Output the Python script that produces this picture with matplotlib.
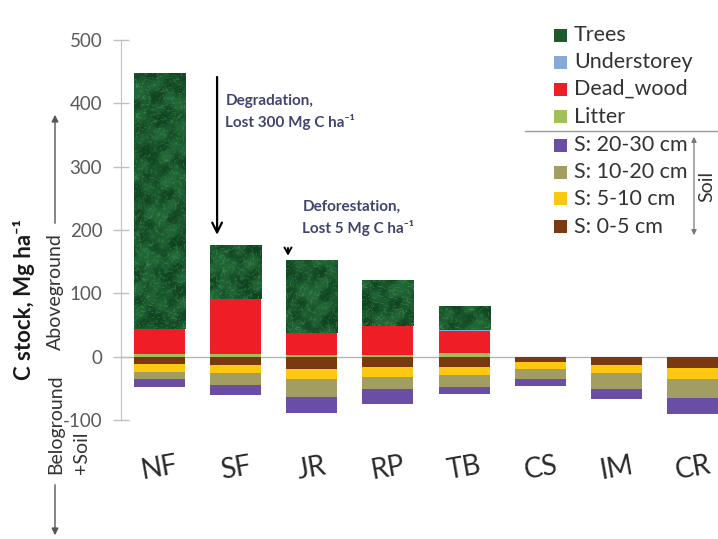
import numpy as np
import matplotlib
matplotlib.use("Agg")
import matplotlib.pyplot as plt
from matplotlib.patches import Rectangle, FancyArrowPatch
from matplotlib.lines import Line2D

plt.rcParams['font.family'] = ['Lato', 'DejaVu Sans']

# ---- data (Mg C ha-1) ----
sites = ["NF", "SF", "JR", "RP", "TB", "CS", "IM", "CR"]
litter = [5, 5, 2, 2, 6, 0, 0, 0]
dead_wood = [38, 86, 35, 46, 35, 0, 0, 0]
understorey = [0.5, 0.5, 0.5, 0.5, 0.5, 0, 0, 0]
trees = [404.5, 84.5, 114.5, 72.5, 38.5, 0, 0, 0]
soil_0_5 = [12, 13, 20, 16, 17, 9, 13, 18]
soil_5_10 = [12, 12, 16, 16, 12, 10, 13, 18]
soil_10_20 = [12, 19, 28, 19, 19, 17, 25, 29]
soil_20_30 = [12, 16, 25, 24, 11, 11, 16, 26]
y_ticks = [500, 400, 300, 200, 100, 0, -100]

colors = {
    "Trees": "#1c5a2d",
    "Understorey": "#86a9d8",
    "Dead_wood": "#ee1d26",
    "Litter": "#9fc05a",
    "S: 20-30 cm": "#6a4ea6",
    "S: 10-20 cm": "#a29d62",
    "S: 5-10 cm": "#fcc812",
    "S: 0-5 cm": "#7b3912",
}

W, H = 718, 539
fig = plt.figure(figsize=(W / 100, H / 100), dpi=100)
fx = lambda px: px / W
fy = lambda py: 1 - py / H

ax = fig.add_axes([fx(121), fy(420), 610 / W, 380 / H])
x = np.arange(len(sites))
bw = 0.67

# aboveground stack
above = [("Litter", litter), ("Dead_wood", dead_wood),
         ("Understorey", understorey), ("Trees", trees)]
bottom = np.zeros(len(sites))
tree_bars = None
for name, vals in above:
    vals = np.asarray(vals, float)
    bars = ax.bar(x, vals, bw, bottom=bottom, color=colors[name], lw=0, zorder=2)
    if name == "Trees":
        tree_bars = bars
    bottom += vals

# belowground (soil) stack, drawn downward
below = [("S: 0-5 cm", soil_0_5), ("S: 5-10 cm", soil_5_10),
         ("S: 10-20 cm", soil_10_20), ("S: 20-30 cm", soil_20_30)]
bottom = np.zeros(len(sites))
for name, vals in below:
    vals = -np.asarray(vals, float)
    ax.bar(x, vals, bw, bottom=bottom, color=colors[name], lw=0, zorder=2)
    bottom += vals

# foliage texture on the tree segments: mottled green with fine pale veins
WAVES = [(0.31, 0.4, 0.0), (0.23, 1.3, 1.1), (0.41, 2.2, 2.3), (0.17, 2.9, 0.7),
         (0.53, 0.9, 4.1), (0.37, 1.8, 5.3), (0.61, 2.6, 3.2)]

def foliage(h, w, off):
    yy, xx = np.mgrid[0:h, 0:w].astype(float)
    yy = yy + off
    n = np.zeros_like(xx)
    m = np.zeros_like(xx)
    for f, ang, ph in WAVES:
        u = xx * np.cos(ang) + yy * np.sin(ang)
        n += np.sin(1.9 * f * u + ph + 1.2 * np.sin(0.23 * xx + 0.15 * yy + ph))
        m += np.sin(0.7 * f * u + 2 * ph)
    n /= len(WAVES) ** 0.5
    m /= len(WAVES) ** 0.5
    veins = np.exp(-(n / 0.13) ** 2)
    blotch = 0.5 + 0.5 * np.tanh(1.2 * m)
    dark = np.array([0x10, 0x44, 0x21]) / 255
    mid = np.array([0x22, 0x68, 0x36]) / 255
    light = np.array([0x62, 0xa8, 0x70]) / 255
    base = dark + (mid - dark) * blotch[..., None]
    return base + (light - base) * (0.45 * veins[..., None])

for i, bar in enumerate(tree_bars):
    hgt = bar.get_height()
    if hgt <= 0:
        continue
    x0, y0, w = bar.get_x(), bar.get_y(), bar.get_width()
    tex = foliage(max(int(hgt * 0.635), 4), 51, 37 * i)
    im = ax.imshow(tex, extent=[x0, x0 + w, y0, y0 + hgt], aspect="auto",
                   origin="lower", interpolation="bilinear", zorder=2.5)
    im.set_clip_path(bar)

ax.axhline(0, color="#b5b5b5", lw=1, zorder=1)

ax.set_xlim(-0.5, 7.5)
ax.set_ylim(-100, 500)
for s in ["top", "right", "bottom"]:
    ax.spines[s].set_visible(False)
ax.spines["left"].set_color("#c0c0c0")
ax.set_xticks([])
ax.set_yticks(y_ticks)
ax.set_yticklabels([str(v) for v in y_ticks])
ax.tick_params(axis="y", direction="inout", length=11, width=1, color="#c0c0c0",
               labelsize=13.5, labelcolor="#5a5a5a", pad=8)
ax.patch.set_alpha(0)

for xi, s in zip(x, sites):
    ax.text(xi, -176, s, rotation=10, ha="center", va="center", fontsize=20,
            color="#2a2a2a", clip_on=False)

# change annotations
ann_col = "#40446f"
ax.annotate("", xy=(0.76, 188), xytext=(0.76, 446),
            arrowprops=dict(arrowstyle="->,head_length=0.7,head_width=0.35",
                            color="black", lw=1.6))
ax.text(0.87, 386, "Degradation,\nLost 300 Mg C ha\u207b\u00b9", fontsize=11,
        fontweight="bold", color=ann_col, va="center", ha="left", linespacing=1.5)
ax.annotate("", xy=(1.69, 155), xytext=(1.69, 176),
            arrowprops=dict(arrowstyle="->,head_length=0.45,head_width=0.25",
                            color="black", lw=1.4))
ax.text(1.88, 219, "Deforestation,\nLost 5 Mg C ha\u207b\u00b9", fontsize=11,
        fontweight="bold", color=ann_col, va="center", ha="left", linespacing=1.5)

# y-axis titles
fig.text(fx(24), fy(300), "C stock, Mg ha\u207b\u00b9", rotation=90, ha="center",
         va="center", fontsize=16, fontweight="bold", color="#1a1a1a")
fig.text(fx(55), fy(350), "Aboveground", rotation=90, ha="center", va="bottom",
         fontsize=14, color="#333333")
fig.text(fx(56), fy(474), "Beloground", rotation=90, ha="center", va="bottom",
         fontsize=14, color="#333333")
fig.text(fx(81), fy(474), "+Soil", rotation=90, ha="center", va="bottom",
         fontsize=14, color="#333333")
fig.add_artist(FancyArrowPatch((fx(55), fy(226)), (fx(55), fy(112)),
                               transform=fig.transFigure,
                               arrowstyle="-|>,head_length=4,head_width=2",
                               color="#555555", lw=1))
fig.add_artist(FancyArrowPatch((fx(55), fy(482)), (fx(55), fy(538)),
                               transform=fig.transFigure,
                               arrowstyle="-|>,head_length=4,head_width=2",
                               color="#555555", lw=1))

# legend
legend_rows = [("Trees", 35), ("Understorey", 62), ("Dead_wood", 89), ("Litter", 117),
               ("S: 20-30 cm", 145), ("S: 10-20 cm", 172), ("S: 5-10 cm", 199),
               ("S: 0-5 cm", 227)]
for name, py in legend_rows:
    fig.add_artist(Rectangle((fx(554), fy(py + 6.5)), 13 / W, 13 / H,
                             transform=fig.transFigure, color=colors[name], lw=0))
    fig.text(fx(574), fy(py), name, ha="left", va="center", fontsize=15.5,
             color="#333333")
fig.add_artist(Line2D([fx(525), fx(718)], [fy(131), fy(131)],
                      transform=fig.transFigure, color="#9a9a9a", lw=1))
fig.add_artist(FancyArrowPatch((fx(694), fy(134)), (fx(694), fy(238)),
                               transform=fig.transFigure,
                               arrowstyle="<|-|>,head_length=3,head_width=1.5",
                               color="#777777", lw=0.9))
fig.text(fx(707), fy(186), "Soil", rotation=90, ha="center", va="center",
         fontsize=14, color="#333333")

fig.savefig("out.png", dpi=100)
